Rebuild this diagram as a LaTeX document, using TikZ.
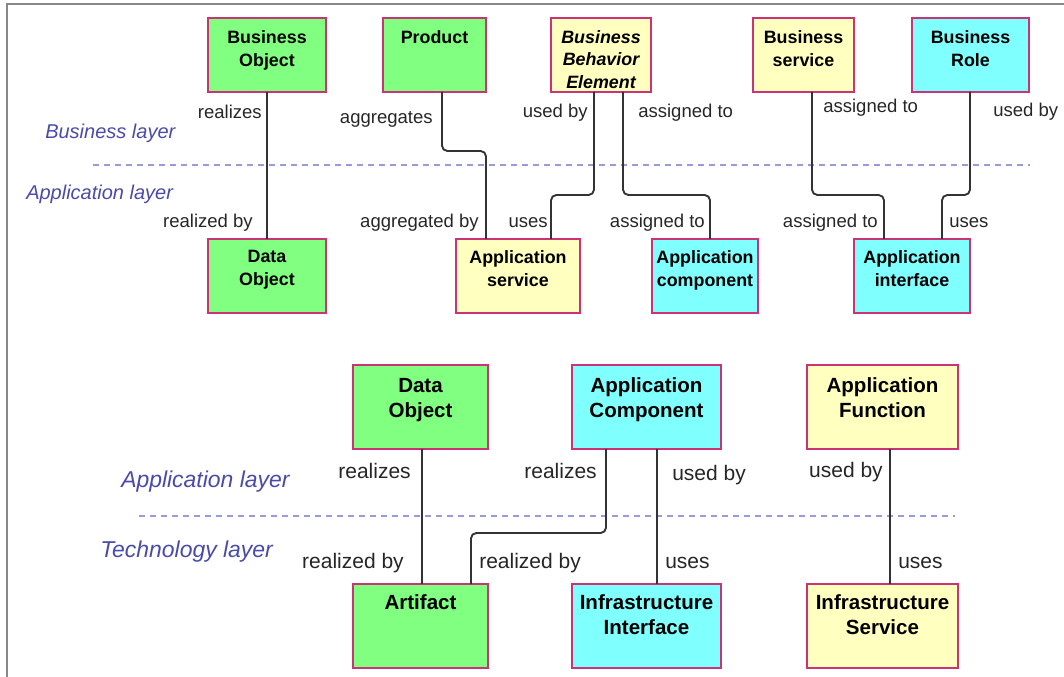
\documentclass[tikz,border=0pt]{standalone}
\usepackage{fontspec}
\setmainfont{Liberation Sans}
\definecolor{objgreen}{HTML}{80FF80}
\definecolor{behyellow}{HTML}{FFFFC0}
\definecolor{actcyan}{HTML}{80FFFF}
\definecolor{boxedge}{HTML}{CC3377}
\definecolor{connline}{HTML}{333333}
\definecolor{layerblue}{HTML}{4A4AAA}
\definecolor{sepblue}{HTML}{9A9ADA}
\definecolor{framegray}{HTML}{888888}
\tikzset{
  elem/.style={draw=boxedge, line width=1.5pt, inner sep=0pt, outer sep=0pt, anchor=north west},
  uptxt/.style={anchor=north, align=center, inner sep=0pt, yshift=-9.15pt,
    font=\fontsize{13.4}{17.25}\selectfont\bfseries},
  uplowtxt/.style={uptxt, yshift=0.75pt},
  lowtxt/.style={anchor=north, align=center, inner sep=0pt, yshift=-9.6pt,
    font=\fontsize{15.4}{18.75}\selectfont\bfseries},
  lowlowtxt/.style={lowtxt, yshift=2.2pt},
  conn/.style={draw=connline, line width=1.4pt, rounded corners=4pt},
  uplab/.style={inner sep=0pt, text=black!85, font=\fontsize{13.9}{16}\selectfont},
  lowlab/.style={inner sep=0pt, text=black!85, font=\fontsize{15.75}{18}\selectfont},
  layer/.style={inner sep=0pt, anchor=base west, text=layerblue, font=\fontsize{15}{18}\selectfont\itshape},
  lowlayer/.style={inner sep=0pt, anchor=base west, text=layerblue, font=\fontsize{17.2}{20}\selectfont\itshape},
  sep/.style={draw=sepblue, line width=1.5pt, dash pattern=on 4.5pt off 3.75pt},
}
% name, x1, y1, x2, y2, fill, text style, text
\newcommand\archbox[8]{%
  \node[elem, fill=#6, minimum width={(#4-#2)*0.75pt}, minimum height={(#5-#3)*0.75pt}] (#1) at (#2,#3) {};
  \node[#7] (#1-t) at ({(#2+#4)/2},#3) {#8};
}
\begin{document}
\begin{tikzpicture}[x=0.75pt,y=-0.75pt]
\useasboundingbox (0,0) rectangle (1064,677);
% frame
\coordinate (fr-tr) at (1064,4);
\coordinate (fr-tl) at (7,4);
\coordinate (fr-bl) at (7,677);
\draw[framegray, line width=1.6pt] (fr-tr) -- (fr-tl) -- (fr-bl);

% ---------- business / application ----------
\coordinate (s1a) at (93,165);
\coordinate (s1b) at (1030,165);
\draw[sep] (s1a) -- (s1b);
\node[layer] (l-bus) at (45,139) {Business layer};
\node[layer] (l-app) at (26,200) {Application layer};

\archbox{bo}{208}{18}{326}{92}{objgreen}{uptxt}{Business\\Object}
\archbox{prod}{383}{18}{486}{92}{objgreen}{uptxt}{Product}
\archbox{bbe}{551}{18}{651}{92}{behyellow}{uptxt,font=\fontsize{13.4}{16.9}\selectfont\bfseries\itshape}{Business\\Behavior\\Element}
\archbox{bsvc}{753}{18}{854}{92}{behyellow}{uptxt}{Business\\service}
\archbox{brole}{912}{18}{1029}{92}{actcyan}{uptxt}{Business\\Role}

\archbox{dobj}{208}{239}{326}{313}{objgreen}{uplowtxt}{Data\\Object}
\archbox{asvc}{456}{239}{580}{313}{behyellow}{uplowtxt}{Application\\service}
\archbox{acomp}{652}{239}{758}{313}{actcyan}{uplowtxt}{Application\\component}
\archbox{aif}{854}{239}{970}{313}{actcyan}{uplowtxt}{Application\\interface}

\draw[conn] (bo.south) -- (dobj.north);
\draw[conn] (prod.south -| 442,0) -- (442,151) -- (486,151) -- (asvc.north -| 486,0);
\draw[conn] (bbe.south -| 594,0) -- (594,195) -- (551,195) -- (asvc.north -| 551,0);
\draw[conn] (bbe.south -| 623,0) -- (623,195) -- (710,195) -- (acomp.north -| 710,0);
\draw[conn] (bsvc.south -| 812,0) -- (812,195) -- (884,195) -- (aif.north -| 884,0);
\draw[conn] (brole.south -| 970,0) -- (970,195) -- (942,195) -- (aif.north -| 942,0);

\node[uplab, anchor=base east] (t1) at (262,119) {realizes};
\node[uplab, anchor=base east] (t2) at (253,228) {realized by};
\node[uplab, anchor=base east] (t3) at (433,124) {aggregates};
\node[uplab, anchor=base east] (t4) at (479,228) {aggregated by};
\node[uplab, anchor=base east] (t5) at (588,118) {used by};
\node[uplab, anchor=base east] (t6) at (548,228) {uses};
\node[uplab, anchor=base west] (t7) at (638,118) {assigned to};
\node[uplab, anchor=base east] (t8) at (705,228) {assigned to};
\node[uplab, anchor=base west] (t9) at (823,113) {assigned to};
\node[uplab, anchor=base east] (t10) at (878,228) {assigned to};
\node[uplab, anchor=base west] (t11) at (993,117) {used by};
\node[uplab, anchor=base west] (t12) at (949,228) {uses};

% ---------- application / technology ----------
\coordinate (s2a) at (139,516);
\coordinate (s2b) at (955,516);
\draw[sep] (s2a) -- (s2b);
\node[lowlayer] (l-app2) at (121,487) {Application layer};
\node[lowlayer] (l-tech) at (100,557) {Technology layer};

\archbox{dobj2}{353}{365}{488}{449}{objgreen}{lowtxt}{Data\\Object}
\archbox{acomp2}{572}{365}{721}{449}{actcyan}{lowtxt}{Application\\Component}
\archbox{afunc}{807}{365}{958}{449}{behyellow}{lowtxt}{Application\\Function}
\archbox{art}{353}{584}{488}{668}{objgreen}{lowlowtxt}{Artifact}
\archbox{iif}{572}{584}{721}{668}{actcyan}{lowlowtxt}{Infrastructure\\Interface}
\archbox{isvc}{807}{584}{958}{668}{behyellow}{lowlowtxt}{Infrastructure\\Service}

\draw[conn] (dobj2.south -| 422,0) -- (art.north -| 422,0);
\draw[conn] (acomp2.south -| 606,0) -- (606,533) -- (471,533) -- (art.north -| 471,0);
\draw[conn] (acomp2.south -| 657,0) -- (iif.north -| 657,0);
\draw[conn] (afunc.south -| 890,0) -- (isvc.north -| 890,0);

\node[lowlab, anchor=base east] (b1) at (411,478) {realizes};
\node[lowlab, anchor=base east] (b2) at (597,478) {realizes};
\node[lowlab, anchor=base west] (b3) at (672,480) {used by};
\node[lowlab, anchor=base east] (b4) at (883,477) {used by};
\node[lowlab, anchor=base east] (b5) at (404,568) {realized by};
\node[lowlab, anchor=base west] (b6) at (479,568) {realized by};
\node[lowlab, anchor=base west] (b7) at (665,568) {uses};
\node[lowlab, anchor=base west] (b8) at (898,568) {uses};
\end{tikzpicture}
\end{document}
